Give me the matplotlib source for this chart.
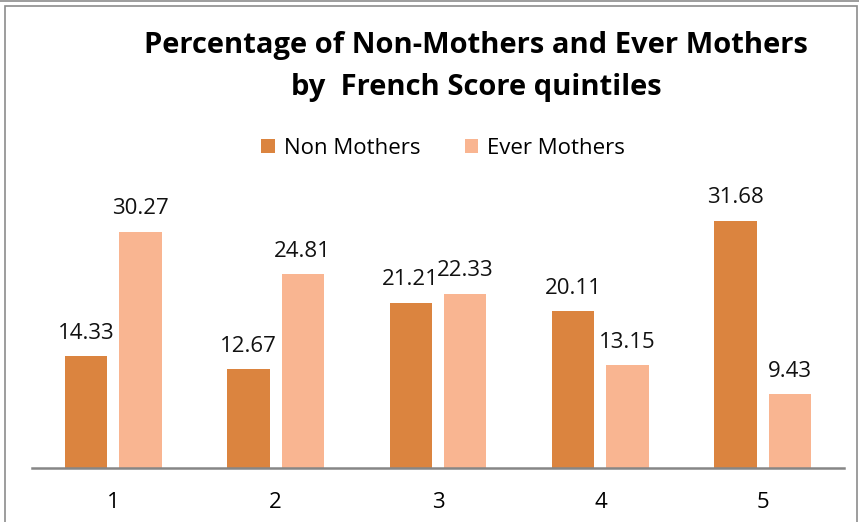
import matplotlib.pyplot as plt
from matplotlib.patches import Rectangle
from matplotlib.lines import Line2D

quintiles = ["1", "2", "3", "4", "5"]
non_mothers = [14.33, 12.67, 21.21, 20.11, 31.68]
ever_mothers = [30.27, 24.81, 22.33, 13.15, 9.43]

c_non = "#DB843F"
c_ever = "#F9B591"

plt.rcParams["font.family"] = ["Open Sans", "DejaVu Sans"]

W, H = 859, 522
fig = plt.figure(figsize=(W / 100, H / 100), dpi=100)

# chart border like the spreadsheet frame
fig.add_artist(Rectangle((4.5 / W, -0.05), 852 / W, 1 - 6 / H + 0.05,
                         transform=fig.transFigure, fill=False,
                         edgecolor="#8c8c8c", linewidth=1.2))
fig.add_artist(Line2D([0, 1], [1 - 1 / H, 1 - 1 / H], transform=fig.transFigure,
                      color="#8c8c8c", linewidth=1.2))

ax = fig.add_axes([32 / W, (H - 468) / H, 812 / W, 273 / H])
x = list(range(len(quintiles)))
off = 0.1675
w = 0.26
b1 = ax.bar([i - off for i in x], non_mothers, w, color=c_non, label="Non Mothers")
b2 = ax.bar([i + off for i in x], ever_mothers, w, color=c_ever, label="Ever Mothers")

for bars, vals in ((b1, non_mothers), (b2, ever_mothers)):
    for rect, v in zip(bars, vals):
        ax.annotate(f"{v:.2f}", (rect.get_x() + rect.get_width() / 2, v),
                    xytext=(0, 9), textcoords="offset points",
                    ha="center", va="bottom", fontsize=16, color="#111111")

ax.set_xlim(-0.5, 4.5)
ax.set_ylim(0, 35)
ax.set_xticks(x)
ax.set_xticklabels(quintiles, fontsize=16)
ax.tick_params(axis="x", length=0, pad=17)
ax.set_yticks([])
for s in ("top", "right", "left"):
    ax.spines[s].set_visible(False)
ax.spines["bottom"].set_color("#868686")
ax.spines["bottom"].set_linewidth(1.8)

fig.text(476 / W, 1 - 45 / H, "Percentage of Non-Mothers and Ever Mothers",
         ha="center", va="center", fontsize=21, fontweight="bold")
fig.text(476 / W, 1 - 87 / H, "by  French Score quintiles",
         ha="center", va="center", fontsize=21, fontweight="bold")

fig.legend(handles=[b1, b2], loc="center", bbox_to_anchor=(443 / W, 1 - 148 / H),
           ncol=2, frameon=False, fontsize=16, handlelength=0.6,
           handleheight=0.6, handletextpad=0.4, columnspacing=2.0)

fig.savefig("out.png", dpi=100)
